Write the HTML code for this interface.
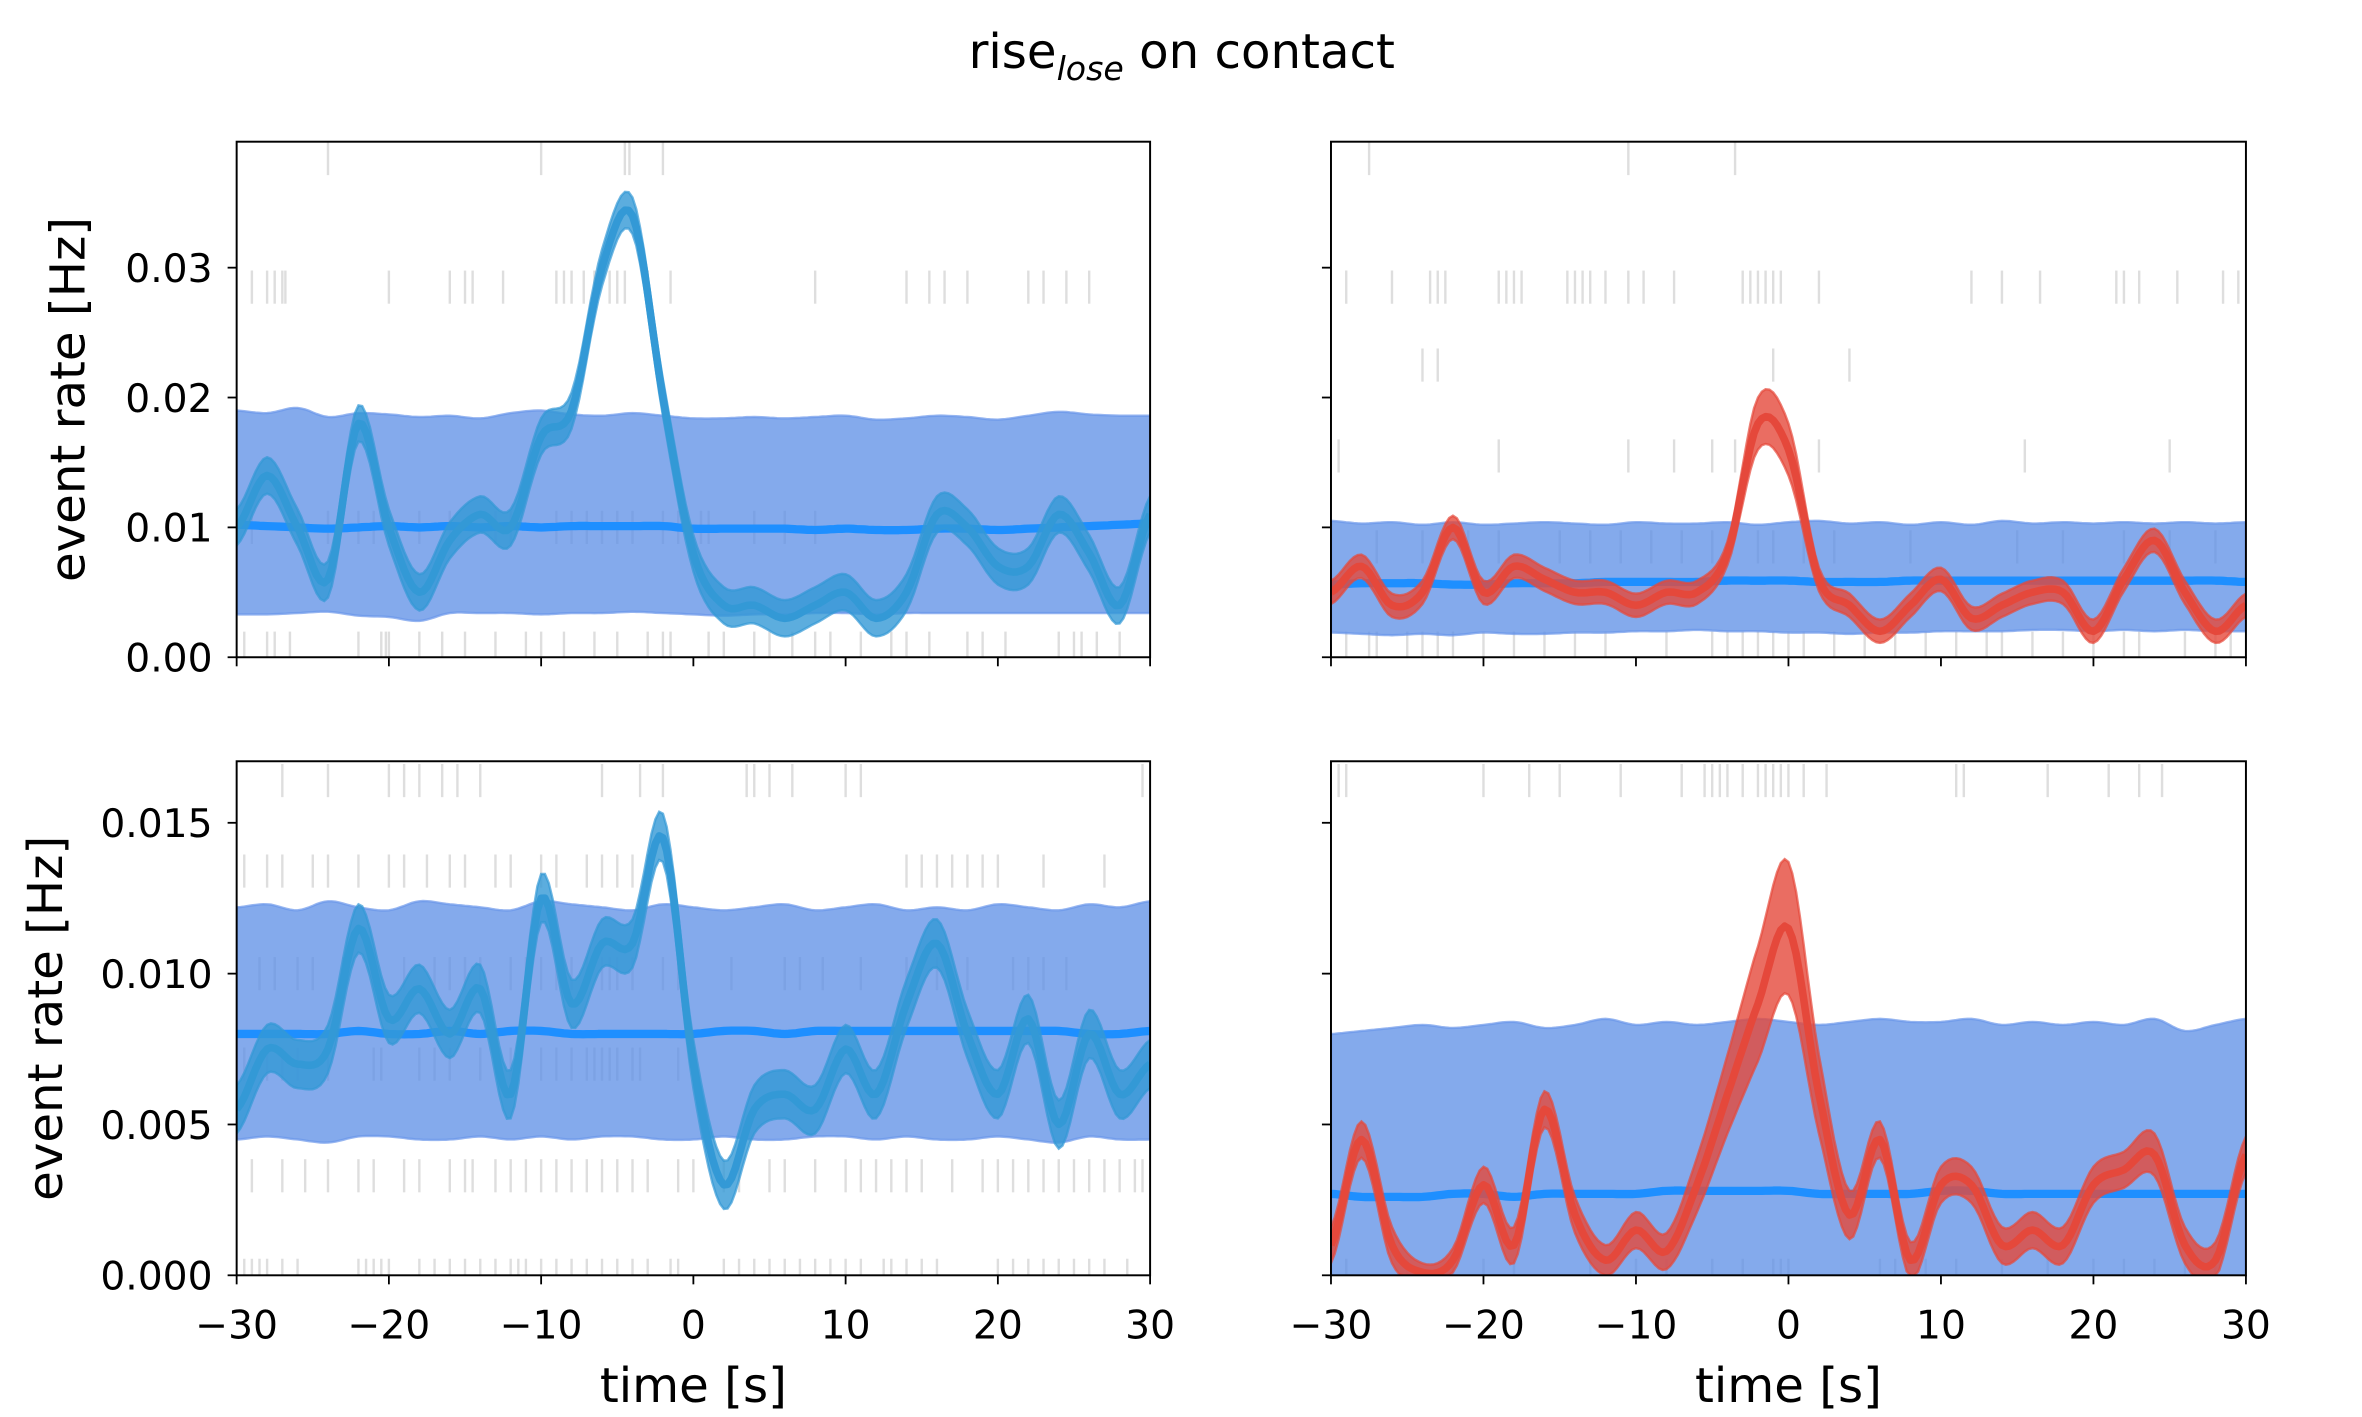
<!DOCTYPE html>
<html><head><meta charset="utf-8"><style>
html,body{margin:0;padding:0;background:#fff}
svg{display:block}
text{font-family:"DejaVu Sans","Liberation Sans",sans-serif;fill:#000}
</style></head><body>
<svg id="chart" width="2362" height="1417" viewBox="0 0 1567 940" preserveAspectRatio="none" xmlns="http://www.w3.org/2000/svg">
<text x="784" y="45" font-size="32" text-anchor="middle">rise<tspan font-size="22" font-style="italic" dy="8">lose</tspan><tspan dy="-8"> on contact</tspan></text>
<g id="panels"></g>
</svg>
<script>
const times = [-30,-28,-26,-24,-22,-20,-18,-16,-14,-12,-10,-8,-6,-4,-2,0,2,4,6,8,10,12,14,16,18,20,22,24,26,28,30];
// observed rates per panel
const tlObs = [0.010,0.014,0.010,0.006,0.018,0.010,0.005,0.009,0.011,0.010,0.017,0.019,0.030,0.034,0.020,0.008,0.004,0.004,0.003,0.004,0.005,0.003,0.005,0.011,0.010,0.007,0.007,0.011,0.008,0.004,0.011];
const trObs = [0.005,0.007,0.004,0.005,0.010,0.005,0.007,0.006,0.005,0.005,0.004,0.005,0.005,0.008,0.018,0.016,0.006,0.004,0.002,0.004,0.006,0.003,0.004,0.005,0.005,0.002,0.006,0.009,0.005,0.002,0.004];
const blObs = [0.0055,0.0075,0.007,0.0075,0.0115,0.0085,0.0095,0.008,0.0095,0.006,0.0125,0.009,0.011,0.011,0.0145,0.007,0.003,0.0055,0.006,0.0055,0.0075,0.006,0.009,0.011,0.008,0.006,0.0085,0.005,0.008,0.006,0.007];
const brObs = [0.001,0.0045,0.001,0.0001,0.0005,0.003,0.001,0.0055,0.002,0.0005,0.0015,0.0008,0.003,0.006,0.009,0.0115,0.006,0.002,0.0045,0.0005,0.003,0.003,0.001,0.0015,0.001,0.003,0.0035,0.004,0.001,0.0005,0.004];
// shuffled band upper / lower / mean
const tlUpper = [0.0190,0.0188,0.0192,0.0185,0.0188,0.0187,0.0185,0.0186,0.0184,0.0188,0.0190,0.0187,0.0186,0.0188,0.0186,0.0184,0.0184,0.0185,0.0184,0.0185,0.0186,0.0183,0.0184,0.0186,0.0185,0.0183,0.0186,0.0189,0.0187,0.0186,0.0186];
const tlLower = [0.0033,0.0033,0.0034,0.0035,0.0032,0.0031,0.0028,0.0034,0.0034,0.0034,0.0033,0.0034,0.0034,0.0035,0.0034,0.0033,0.0032,0.0033,0.0033,0.0034,0.0034,0.0033,0.0034,0.0034,0.0034,0.0034,0.0034,0.0034,0.0034,0.0034,0.0034];
const tlMean = [0.0102,0.0101,0.0100,0.0099,0.0100,0.0101,0.0100,0.0101,0.0100,0.0101,0.0100,0.0101,0.0101,0.0101,0.0101,0.0099,0.0099,0.0099,0.0099,0.0098,0.0099,0.0098,0.0098,0.0099,0.0099,0.0098,0.0099,0.0100,0.0101,0.0102,0.0103];
const trUpper = [0.0105,0.0103,0.0104,0.0102,0.0104,0.0102,0.0103,0.0104,0.0103,0.0102,0.0104,0.0103,0.0103,0.0104,0.0102,0.0104,0.0105,0.0103,0.0104,0.0102,0.0104,0.0102,0.0105,0.0103,0.0104,0.0103,0.0104,0.0103,0.0104,0.0103,0.0104];
const trLower = [0.0019,0.0018,0.0017,0.0018,0.0017,0.0019,0.0018,0.0018,0.0019,0.0019,0.0020,0.0020,0.0021,0.0020,0.0020,0.0019,0.0019,0.0018,0.0019,0.0019,0.0020,0.0020,0.0020,0.0021,0.0021,0.0020,0.0021,0.0020,0.0021,0.0020,0.0020];
const trMean = [0.0056,0.0057,0.0057,0.0057,0.0056,0.0056,0.0057,0.0057,0.0057,0.0058,0.0058,0.0058,0.0058,0.0059,0.0059,0.0059,0.0058,0.0058,0.0058,0.0059,0.0059,0.0059,0.0059,0.0059,0.0059,0.0059,0.0059,0.0059,0.0059,0.0059,0.0058];
const blUpper = [0.0122,0.0123,0.0121,0.0124,0.0122,0.0121,0.0124,0.0123,0.0122,0.0121,0.0124,0.0123,0.0122,0.0121,0.0123,0.0122,0.0121,0.0122,0.0123,0.0121,0.0122,0.0123,0.0121,0.0122,0.0121,0.0123,0.0122,0.0121,0.0123,0.0122,0.0124];
const blLower = [0.0045,0.0046,0.0045,0.0044,0.0046,0.0046,0.0045,0.0045,0.0046,0.0045,0.0046,0.0045,0.0046,0.0046,0.0045,0.0045,0.0046,0.0045,0.0045,0.0046,0.0046,0.0045,0.0046,0.0045,0.0045,0.0046,0.0045,0.0044,0.0046,0.0045,0.0045];
const blMean = [0.0080,0.0080,0.0080,0.0080,0.0081,0.0080,0.0080,0.0081,0.0080,0.0081,0.0081,0.0080,0.0080,0.0080,0.0080,0.0080,0.0081,0.0081,0.0080,0.0081,0.0081,0.0081,0.0081,0.0081,0.0081,0.0081,0.0081,0.0081,0.0080,0.0080,0.0081];
const brUpper = [0.0080,0.0081,0.0082,0.0083,0.0082,0.0083,0.0084,0.0082,0.0083,0.0085,0.0083,0.0084,0.0083,0.0084,0.0085,0.0084,0.0083,0.0084,0.0085,0.0084,0.0084,0.0085,0.0083,0.0084,0.0083,0.0084,0.0083,0.0085,0.0081,0.0083,0.0085];
const brLower = [0,0,0,0,0,0,0,0,0,0,0,0,0,0,0,0,0,0,0,0,0,0,0,0,0,0,0,0,0,0,0];
const brMean = [0.0027,0.0026,0.0026,0.0026,0.0027,0.0027,0.0026,0.0027,0.0027,0.0027,0.0027,0.0028,0.0028,0.0028,0.0028,0.0028,0.0027,0.0027,0.0027,0.0027,0.0028,0.0028,0.0027,0.0027,0.0027,0.0027,0.0027,0.0027,0.0027,0.0027,0.0027];
const brHalf = [0.0006,0.0006,0.0006,0.0003,0.0004,0.0006,0.0006,0.0006,0.0006,0.0005,0.0006,0.0006,0.0009,0.0013,0.0019,0.0022,0.0013,0.0008,0.0006,0.0006,0.0006,0.0006,0.0006,0.0006,0.0006,0.0006,0.0006,0.0007,0.0006,0.0006,0.0006];
// raster spike rows: [rate level, times]
const tlRaster = [[0.0384,[-24,-10,-4.5,-4.2,-2]],[0.0285,[-29,-28,-27.5,-27,-26.8,-20,-16,-15,-14.5,-12.5,-9,-8.5,-8,-7.2,-6.5,-5.5,-5,-4.5,-3,-1.5,8,14,15.5,16.5,18,22,23,24.5,26]],[0.0100,[-29,-26,-24,-22,-21,-18,-16,-13,-12,-9,-8,-7,-6,-5,-4,-2,-1,0.5,1,4,6,8]],[0.0007,[-29.5,-28,-27.5,-26.5,-22,-20.5,-20.2,-20,-18,-16.5,-15,-13,-11,-10,-8.5,-6.5,-5,-3,-2,-1.5,1,2,4,5,6.5,8,9,11,13,14,15.5,18,19,20.5,24,25,25.5,26.5,28]]];
const trRaster = [[0.0384,[-27.5,-10.5,-3.5]],[0.0285,[-29,-26,-23.5,-23,-22.5,-19,-18.5,-18,-17.5,-14.5,-14,-13.5,-13,-12,-10.5,-9.5,-7.5,-3,-2.5,-2,-1.5,-1,-0.5,2,12,14,16.5,21.5,22,23,25.5,28.5,29.5]],[0.0225,[-24,-23,-1,4]],[0.0155,[-29.5,-19,-10.5,-7.5,-5,-3.5,2,15.5,25]],[0.0085,[-27,-24,-21,-19,-15,-13,-11,-9,-7,-5,-2,-1,1,3,8,15,18,22,25,28]],[0.0007,[-29,-27.5,-27,-25,-24,-23,-22,-20,-18,-16,-14,-12,-8,-5,-4,-3,-2,-1,0,1,3,5,7,9,11,13,14,16,18,20,22,23,26,28,29]]];
const blRaster = [[0.0164,[-27,-24,-20,-19,-18,-16.5,-15.5,-14,-6,-3.5,-2,3.5,4,5,6.5,10,11,29.5]],[0.0134,[-29.5,-28,-27,-25,-24,-22,-20,-19,-17.5,-16,-15,-13,-12,-10,-9,-7,-6,-5,-4,-3,-1.5,14,15,16,17,18,19,20,23,27]],[0.0100,[-28.5,-27.5,-26,-25,-23,-21,-19,-17,-16,-15,-14,-12,-11,-10,-9,-8,-7,-6,-5.5,-5,-4,-2,-1,2.5,6,7,8.5,11,14,16,18,21,22,23,24.5]],[0.0070,[-29.5,-28,-27,-26,-24,-21,-20.5,-18,-17,-16,-14,-12,-10,-9,-8,-7,-6.5,-6,-5.5,-5,-4,-3.5,-1]],[0.0033,[-29,-27,-25.5,-24,-22,-21,-19,-18,-16,-15,-14.5,-13,-12,-11,-10,-9,-8,-7,-6,-5,-4,-3,-1,0,2,3,5,6,8,10,11,12,13,14,15,17,19,20,21,22,23,24,25,26,27,28,29,29.5]],[0.0000,[-29.5,-29,-28.5,-28,-27,-26,-22,-21.5,-21,-20.5,-20,-18,-17,-16,-15,-14,-13,-12,-11.5,-11,-10,-9,-8,-7,-6,-5,-4,-3,-1.5,-1,2,3,4,5,6,7,8,9,10,11,12.5,13,14,15,16,20,21,22,23,24,25,26,27,28.5]]];
const brRaster = [[0.0164,[-29.5,-29,-20,-17,-15,-11,-7,-5.5,-5,-4.5,-4,-3,-2,-1.5,-1,-0.5,0,1,2.5,11,11.5,17,21,23,24.5]],[0.0000,[-29,-25,-22,-20,-18,-13,-10,-8,-5,-3,-1,-0.5,0,6,7,9,11,14,17,20,22,24,26,28]]];

const svg = document.getElementById('chart');
const NS = 'http://www.w3.org/2000/svg';
function mk(tag, attrs, parent){const e=document.createElementNS(NS,tag);for(const k in attrs)e.setAttribute(k,attrs[k]);(parent||svg).appendChild(e);return e;}

function smoothPts(xs, ys){
  const out=[];
  for(let i=0;i<xs.length-1;i++){
    const p0=ys[Math.max(0,i-1)],p1=ys[i],p2=ys[i+1],p3=ys[Math.min(ys.length-1,i+2)];
    for(let s=0;s<8;s++){const t=s/8;
      const v=0.5*((2*p1)+(-p0+p2)*t+(2*p0-5*p1+4*p2-p3)*t*t+(-p0+3*p1-3*p2+p3)*t*t*t);
      out.push([xs[i]+(xs[i+1]-xs[i])*t, v]);}
  }
  out.push([xs[xs.length-1], ys[ys.length-1]]);
  return out;
}

function panel(cfg){
  const g=mk('g',{});
  
  
  const {x0,x1,y0,y1,ymax,yticks,yfmt} = cfg;
  const X = t => x0 + (t+30)/60*(x1-x0);
  const Y = v => y1 - v/ymax*(y1-y0);
  const clipId = cfg.name+'-clip';
  const cp=mk('clipPath',{id:clipId},g); mk('rect',{x:x0,y:y0,width:x1-x0,height:y1-y0},cp);
  const inner=mk('g',{'clip-path':`url(#${clipId})`},g);
  for(const [lvl,ts] of cfg.raster){
    for(const t of ts){
      const l=mk('line',{x1:X(t),x2:X(t),y1:Y(lvl)-11,y2:Y(lvl)+11,stroke:'#000','stroke-opacity':0.13,'stroke-width':1.6},inner);
      
      
    }
  }
  function band(lo, hi, fill, stroke, op, name){
    const a=smoothPts(times,hi), b=smoothPts(times,lo).reverse();
    const d='M'+a.map(p=>X(p[0]).toFixed(1)+','+Y(p[1]).toFixed(1)).join('L')+'L'+b.map(p=>X(p[0]).toFixed(1)+','+Y(Math.max(0,p[1])).toFixed(1)).join('L')+'Z';
    const p=mk('path',{d,fill,'fill-opacity':op,stroke,'stroke-width':1.6,'stroke-opacity':0.7},inner);
    
    
  }
  function line(vals, color, w, name){
    const a=smoothPts(times,vals);
    const p=mk('path',{d:'M'+a.map(p=>X(p[0]).toFixed(1)+','+Y(Math.max(0,p[1])).toFixed(1)).join('L'),fill:'none',stroke:color,'stroke-width':w,'stroke-linejoin':'round'},inner);
    
    
  }
  band(cfg.lower, cfg.upper, '#5b8de6', '#6a96ea', 0.75, 'shuffled-band');
  line(cfg.mean, '#1e8fff', 5.5, 'shuffled-mean-line');
  const obs=cfg.obs, half=cfg.half;
  band(obs.map((v,i)=>v-half[i]), obs.map((v,i)=>v+half[i]), cfg.color, cfg.color, 0.8, 'observed-band');
  line(obs, cfg.color, 5, 'observed-line');
  const fr=mk('rect',{x:x0,y:y0,width:x1-x0,height:y1-y0,fill:'none',stroke:'#000','stroke-width':1.3},g);
  
  
  for(const v of yticks){
    mk('line',{x1:x0-6,x2:x0,y1:Y(v),y2:Y(v),stroke:'#000','stroke-width':1.2},g);
    if(cfg.ylabels){
      const t=mk('text',{x:x0-16,y:Y(v)+9.5,'font-size':26,'text-anchor':'end'},g);
      t.textContent=v.toFixed(yfmt);
      
      
    }
  }
  for(const v of [-30,-20,-10,0,10,20,30]){
    mk('line',{x1:X(v),x2:X(v),y1:y1,y2:y1+6,stroke:'#000','stroke-width':1.2},g);
    if(cfg.xlabels){
      const t=mk('text',{x:X(v),y:y1+42,'font-size':26,'text-anchor':'middle'},g);
      t.textContent=(v<0?'\u2212'+(-v):v);
      
      
    }
  }
  if(cfg.xlabels){
    const t=mk('text',{x:(x0+x1)/2,y:y1+84,'font-size':32,'text-anchor':'middle'},g);
    t.textContent='time [s]';
    
    
  }
  if(cfg.ylabels){
    const cy=(y0+y1)/2;
    const t=mk('text',{x:0,y:0,'font-size':32,'text-anchor':'middle',transform:`translate(${cfg.ylabx},${cy}) rotate(-90)`},g);
    t.textContent='event rate [Hz]';
    
    
  }
}
const topT=[0,0.01,0.02,0.03], botT=[0,0.005,0.010,0.015];
const h2=tlObs.map(()=>0.0014), h3=blObs.map(()=>0.0008);
panel({name:'panel-top-left',x0:157,x1:763,y0:94,y1:436,ymax:0.0397,yticks:topT,yfmt:2,ylabels:true,xlabels:false,ylabx:56,raster:tlRaster,upper:tlUpper,lower:tlLower,mean:tlMean,obs:tlObs,half:h2,color:'#3399d6'});
panel({name:'panel-top-right',x0:883,x1:1490,y0:94,y1:436,ymax:0.0397,yticks:topT,yfmt:2,ylabels:false,xlabels:false,raster:trRaster,upper:trUpper,lower:trLower,mean:trMean,obs:trObs,half:trObs.map((v,i)=>i==14||i==15?0.002:0.0009),color:'#e5483b'});
panel({name:'panel-bottom-left',x0:157,x1:763,y0:505,y1:846,ymax:0.01704,yticks:botT,yfmt:3,ylabels:true,xlabels:true,ylabx:41,raster:blRaster,upper:blUpper,lower:blLower,mean:blMean,obs:blObs,half:h3,color:'#3399d6'});
panel({name:'panel-bottom-right',x0:883,x1:1490,y0:505,y1:846,ymax:0.01704,yticks:botT,yfmt:3,ylabels:false,xlabels:true,raster:brRaster,upper:brUpper,lower:brLower,mean:brMean,obs:brObs,half:brHalf,color:'#e5483b'});
</script>
</body></html>
